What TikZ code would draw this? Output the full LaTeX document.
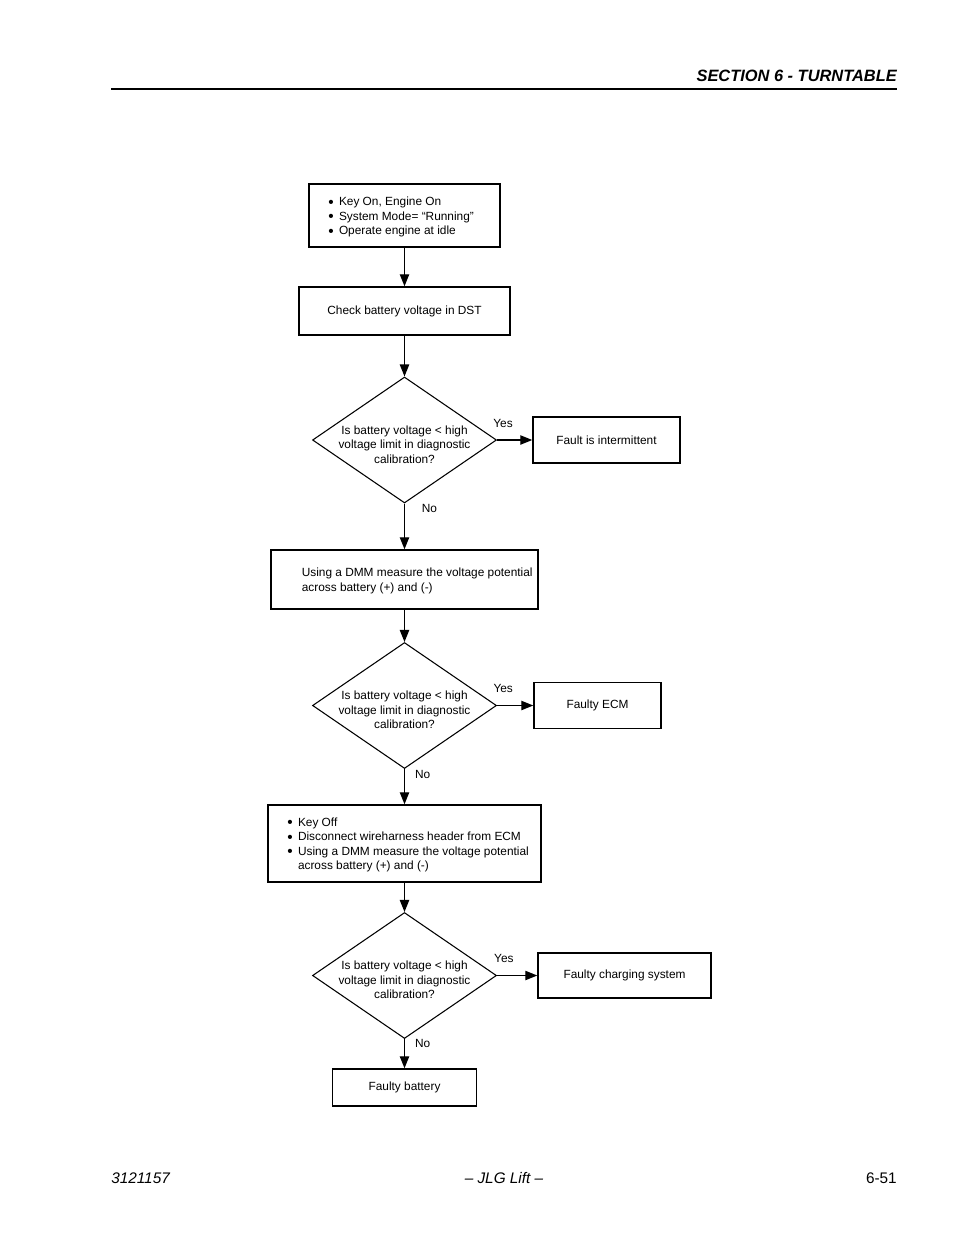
\documentclass[tikz,border=0pt]{standalone}
\usepackage{fontspec}
\setmainfont{Liberation Sans}
\usetikzlibrary{arrows.meta,shapes.geometric,shadows}
\def\bodyfont{\fontsize{8.9}{10.8}\selectfont}
\def\itemdot{\raisebox{-1.1pt}{\scalebox{1.3}{\textbullet}}}
\tikzset{
	box/.style={draw, line width=1.1pt, fill=white, inner sep=0pt, font=\bodyfont,
		drop shadow={shadow xshift=0.7pt, shadow yshift=-0.7pt, opacity=1, fill=black}},
	decision/.style={diamond, draw, line width=0.8pt, inner sep=0pt,
		minimum width=138pt, minimum height=94.5pt},
	boxtext/.style={inner sep=0pt, font=\bodyfont, anchor=west},
	asktext/.style={inner sep=0pt, font=\bodyfont, align=center},
	answer/.style={inner sep=0pt, font=\bodyfont},
	link/.style={line width=1pt, -{Triangle[length=9pt,width=7pt]}}
}

\begin{document}
\begin{tikzpicture}[x=0.75pt, y=-0.75pt]
			%%%%% START %%%%%
			\useasboundingbox (0,0) rectangle (954,1235);
			
			\node[anchor=base east, inner sep=0pt, font=\bfseries\itshape\fontsize{12.3}{14}\selectfont] (head) at (897, 81) {SECTION 6 - TURNTABLE};
			\draw[line width=0.9pt] (111, 89) -- (897, 89);
			
			\node[box, minimum width=143.25pt, minimum height=47.25pt] (start) at (404.5, 215.5) {};
			\node[boxtext] (starttext) at (328, 217.5) {\begin{tabular}{@{}l@{\hspace{4pt}}l@{}}
				\itemdot & Key On, Engine On\\
				\itemdot & System Mode= “Running”\\
				\itemdot & Operate engine at idle
			\end{tabular}};
			
			\node[box, minimum width=158.25pt, minimum height=36pt] (check) at (404.5, 311) {Check battery voltage in DST};
			
			\node[decision] (askA) at (404.5, 440) {};
			\node[asktext] (askAtext) at (404.5, 444.5) {Is battery voltage < high\\voltage limit in diagnostic\\calibration?};
			\node[box, minimum width=110.25pt, minimum height=34.5pt] (intermit) at (606.5, 440) {Fault is intermittent};
			
			\node[box, minimum width=200.25pt, minimum height=44.25pt] (measure) at (404.5, 579.5) {};
			\node[boxtext] (measuretext) at (301.5, 581) {\begin{tabular}{@{}l@{}}
				Using a DMM measure the voltage potential\\
				across battery (+) and (-)
			\end{tabular}};
			
			\node[decision] (askB) at (404.5, 705.5) {};
			\node[asktext] (askBtext) at (404.5, 710) {Is battery voltage < high\\voltage limit in diagnostic\\calibration?};
			\node[box, minimum width=95.25pt, minimum height=34.5pt] (ecm) at (597.5, 705.5) {Faulty ECM};
			
			\node[box, minimum width=204.75pt, minimum height=57.75pt] (keyoff) at (404.5, 843.5) {};
			\node[boxtext] (keyofftext) at (287, 845) {\begin{tabular}{@{}l@{\hspace{4pt}}l@{}}
				\itemdot & Key Off\\
				\itemdot & Disconnect wireharness header from ECM\\
				\itemdot & Using a DMM measure the voltage potential\\
				& across battery (+) and (-)
			\end{tabular}};
			
			\node[decision] (askC) at (404.5, 975.5) {};
			\node[asktext] (askCtext) at (404.5, 980) {Is battery voltage < high\\voltage limit in diagnostic\\calibration?};
			\node[box, minimum width=129.75pt, minimum height=33.75pt] (charging) at (624.5, 975.5) {Faulty charging system};
			
			\node[box, minimum width=108pt, minimum height=27.75pt] (battery) at (404.5, 1087.5) {Faulty battery};
			
			\draw[link] (start) -- (check);
			\draw[link] (check) -- (askA);
			\draw[link] (askA) -- node[answer, pos=0.17, above=9pt] {Yes} (intermit);
			\draw[link] (askA) -- node[answer, pos=0.1, anchor=west, xshift=12.5pt] {No} (measure);
			\draw[link] (measure) -- (askB);
			\draw[link] (askB) -- node[answer, pos=0.17, above=9pt] {Yes} (ecm);
			\draw[link] (askB) -- node[answer, pos=0.16, anchor=west, xshift=7.5pt] {No} (keyoff);
			\draw[link] (keyoff) -- (askC);
			\draw[link] (askC) -- node[answer, pos=0.17, above=9pt] {Yes} (charging);
			\draw[link] (askC) -- node[answer, pos=0.16, anchor=west, xshift=7.5pt] {No} (battery);
			
			\node[anchor=base west, inner sep=0pt, font=\itshape\fontsize{11.5}{13}\selectfont] (docno) at (111, 1183) {3121157};
			\node[anchor=base, inner sep=0pt, font=\itshape\fontsize{11.5}{13}\selectfont] (maker) at (504, 1183) {– JLG Lift –};
			\node[anchor=base east, inner sep=0pt, font=\fontsize{11.5}{13}\selectfont] (pageno) at (897, 1183) {6-51};
			
			%%%%% END %%%%%
		\end{tikzpicture}
\end{document}
